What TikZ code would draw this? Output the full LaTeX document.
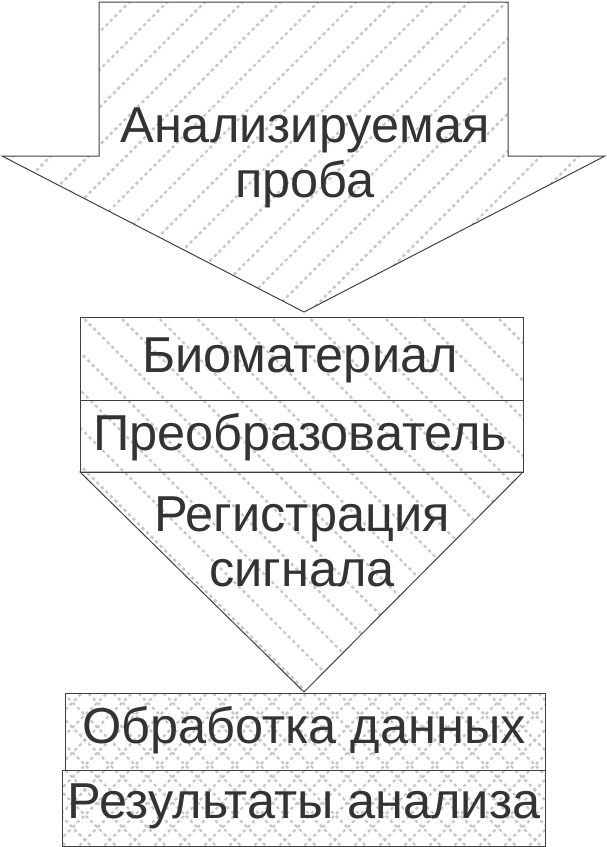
\documentclass[tikz,border=0pt]{standalone}
\usepackage{fontspec}
\setmainfont{Liberation Sans}

\tikzset{
  lbl/.style={text=black!80, font=\fontsize{50.5}{55}\selectfont, align=center, inner sep=0pt, anchor=base},
  hatch/.style={draw=black!22, line width=2.4pt, dash pattern=on 3.2pt off 3.2pt},
  frame/.style={draw=black!75, line width=1pt}
}

\begin{document}
\begin{tikzpicture}[x=1pt,y=-1pt]
  \useasboundingbox (0,0) rectangle (607,847);
  \begin{scope}
    \clip (99,2) -- (508,2) -- (508,156) -- (605,156) -- (304,312) -- (2,156) -- (99,156) -- cycle;
    \foreach \i in {-10,...,18}
      \draw[hatch] (\i*37.7,320) -- ++(330,-330);
  \end{scope}
  \begin{scope}
    \clip (80,317) -- (523,317) -- (523,472) -- (304,692) -- (80,472) -- cycle;
    \foreach \i in {-12,...,16}
      \draw[hatch] (\i*37.7,310) -- ++(390,390);
  \end{scope}
  \begin{scope}
    \clip (65,693) rectangle (545,770) (62,770) rectangle (545,846);
    \foreach \i in {-8,...,24} {
      \draw[hatch] (\i*25,850) -- ++(170,-170);
      \draw[hatch] (\i*25,680) -- ++(170,170);
    }
  \end{scope}
  \draw[frame] (99,2) -- (508,2) -- (508,156) -- (605,156) -- (304,312) -- (2,156) -- (99,156) -- cycle;
  \draw[frame] (80,317) rectangle (523,400);
  \draw[frame] (80,400) rectangle (523,472);
  \draw[frame] (80,472) -- (523,472) -- (304,692) -- cycle;
  \draw[frame] (65,693) rectangle (545,770);
  \draw[frame] (62,770) rectangle (545,846);
  \node[lbl] (probe) at (305,197) {Анализируемая\\проба};
  \node[lbl] (bio) at (300,372) {Биоматериал};
  \node[lbl] (conv) at (300,450) {Преобразователь};
  \node[lbl] (reg) at (302,586) {Регистрация\\сигнала};
  \node[lbl] (proc) at (304,743) {Обработка данных};
  \node[lbl] (res) at (304,818) {Результаты анализа};
\end{tikzpicture}
\end{document}
